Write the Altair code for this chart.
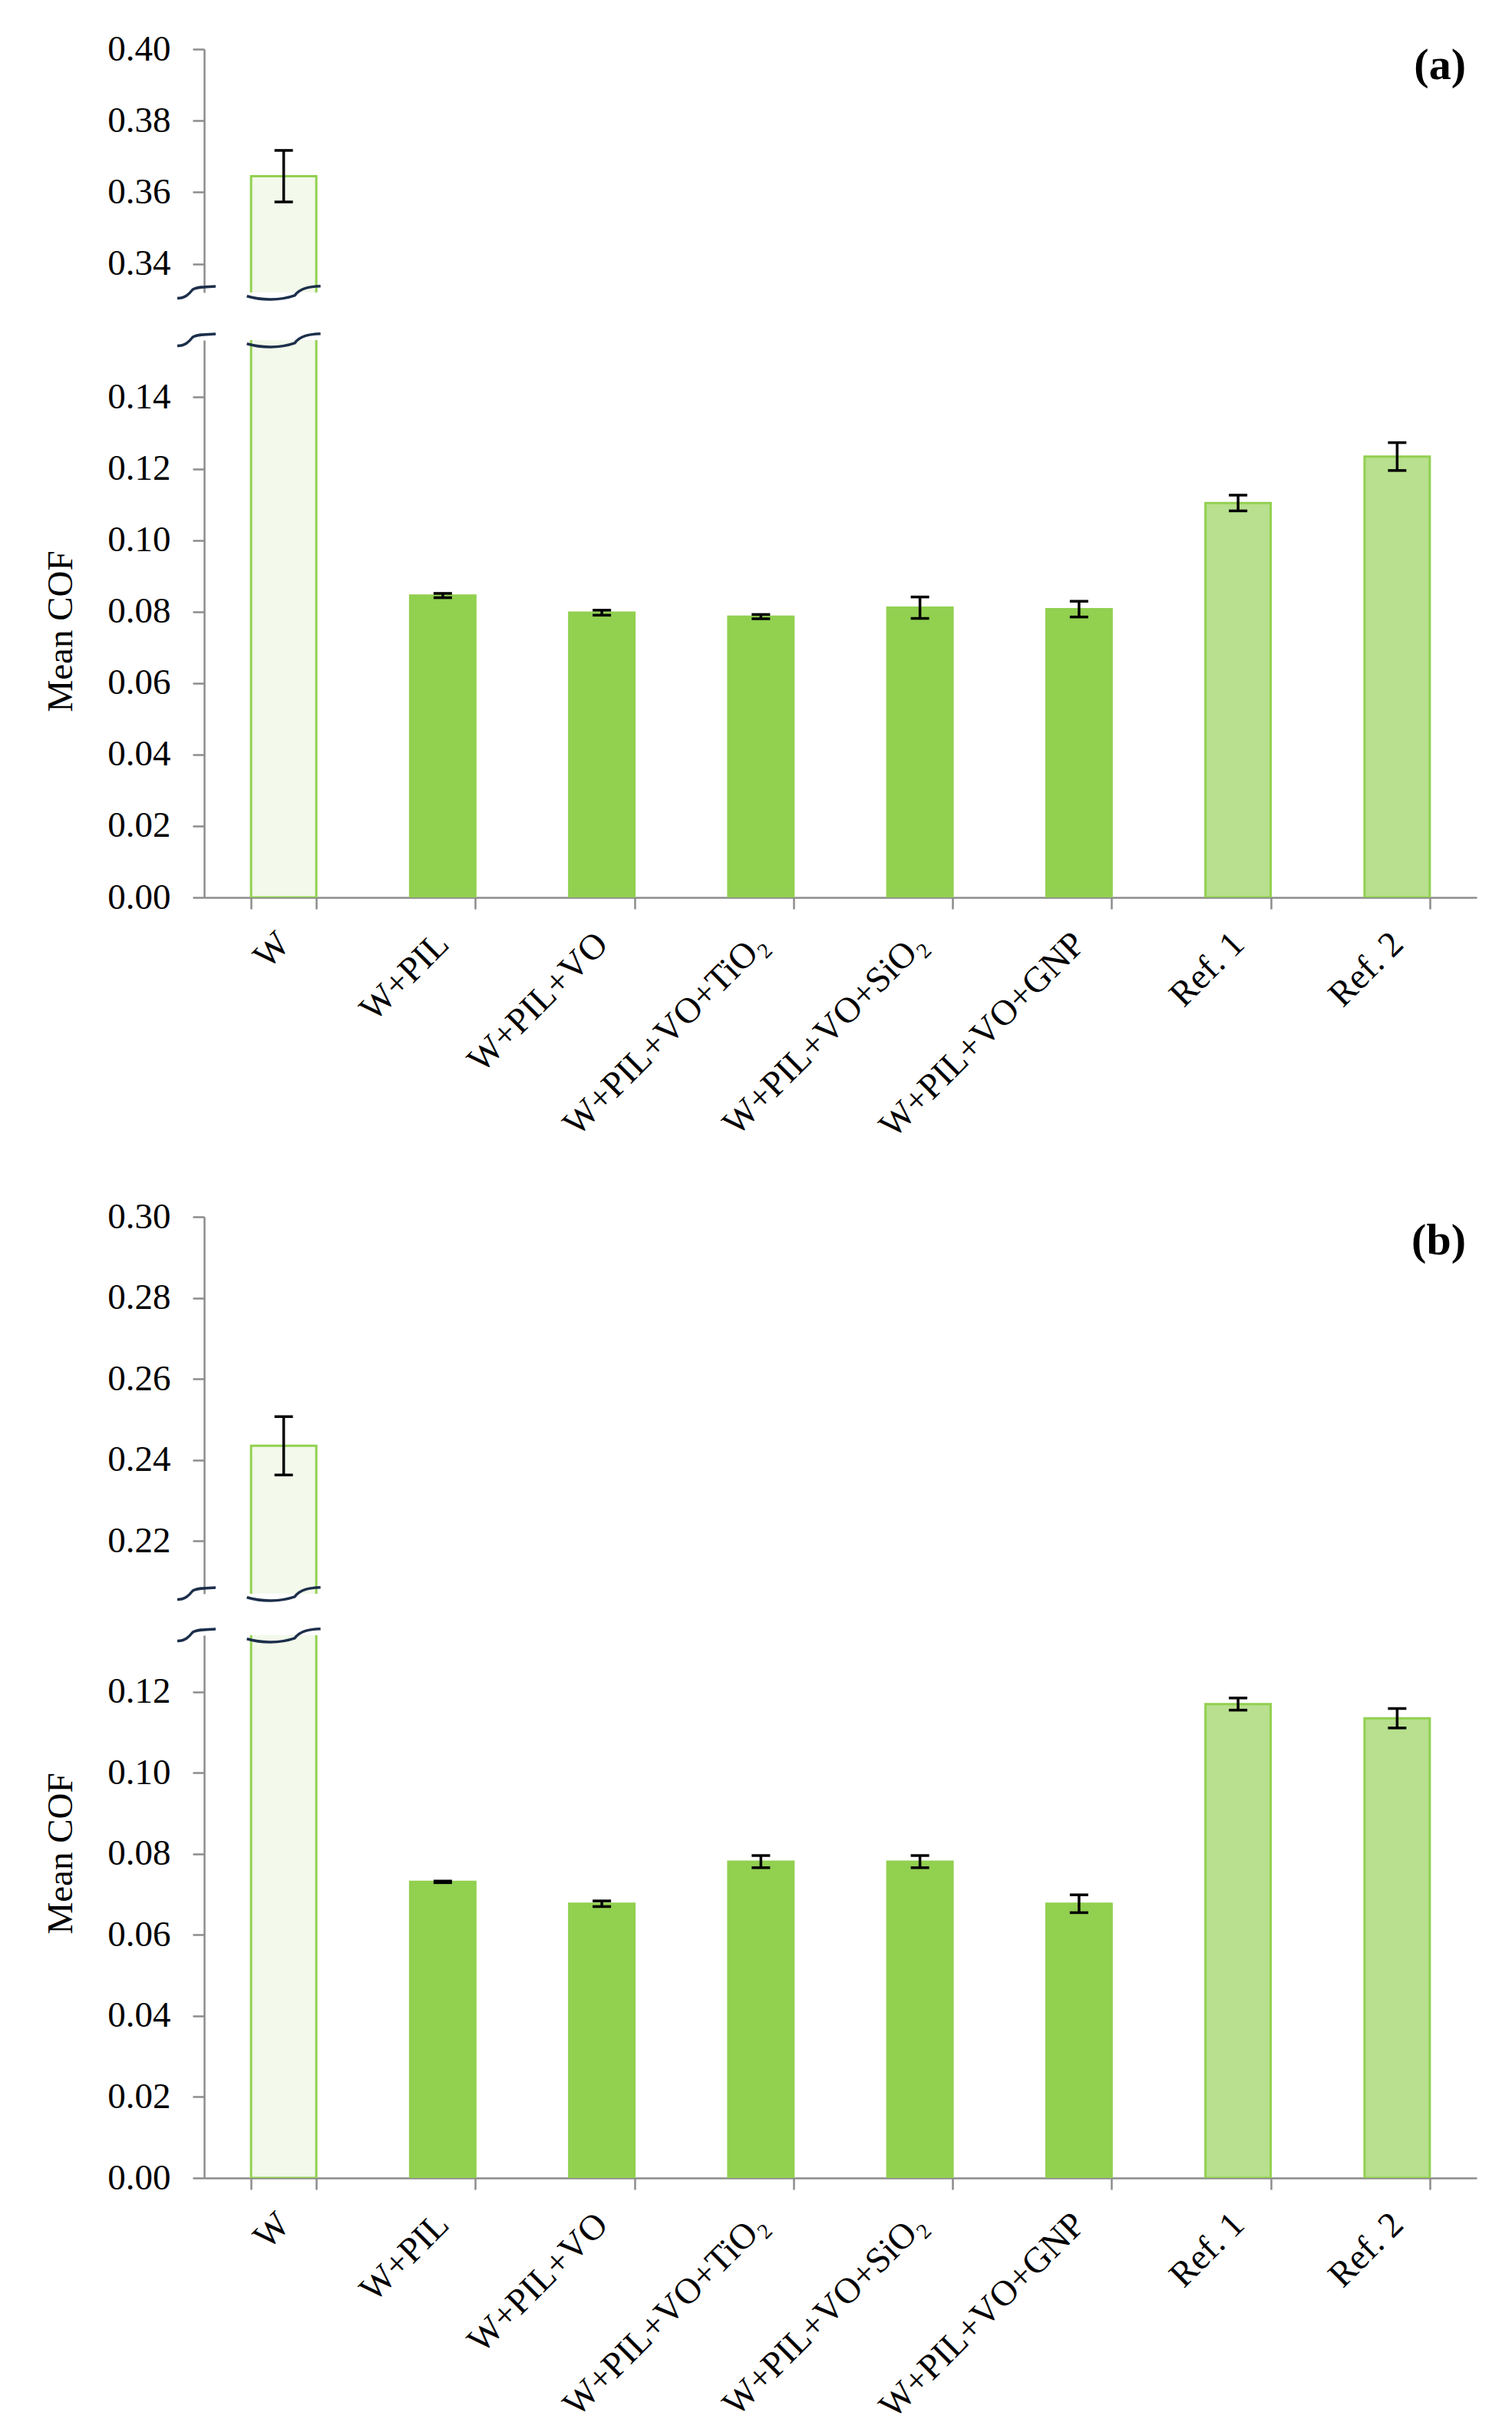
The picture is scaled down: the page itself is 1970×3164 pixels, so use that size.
import altair as alt
import pandas as pd

categories = ["W", "W+PIL", "W+PIL+VO", "W+PIL+VO+TiO₂", "W+PIL+VO+SiO₂",
              "W+PIL+VO+GNP", "Ref. 1", "Ref. 2"]
bar_style = ["dotted", "solid", "solid", "solid", "solid", "solid", "hatched", "hatched"]

# panel (a)
cof_a = [0.3645, 0.0845, 0.0797, 0.0786, 0.0811, 0.0807, 0.1104, 0.1234]
err_a = [0.0072, 0.0006, 0.0007, 0.0006, 0.0030, 0.0022, 0.0022, 0.0039]
# panel (b)
cof_b = [0.2435, 0.0731, 0.0677, 0.0781, 0.0781, 0.0677, 0.1170, 0.1135]
err_b = [0.0072, 0.0002, 0.0007, 0.0015, 0.0015, 0.0022, 0.0015, 0.0024]

ticks_a_top = [0.34, 0.36, 0.38, 0.40]
ticks_a_low = [0.00, 0.02, 0.04, 0.06, 0.08, 0.10, 0.12, 0.14]
ticks_b_top = [0.22, 0.24, 0.26, 0.28, 0.30]
ticks_b_low = [0.00, 0.02, 0.04, 0.06, 0.08, 0.10, 0.12]

FONT = "Liberation Serif"
GREEN = "#92d050"
GREY = "#8c8c8c"
NAVY = "#1c2f4b"
W = 1658

# break marks (custom symbol paths in the -1..1 box)
BAR_WAVE = "M-1,0.1 C-0.6,0.22 -0.1,0.22 0.3,0.08 C0.45,-0.12 0.7,-0.16 1,-0.17"
AXIS_WAVE = "M-1,0.3 C-0.6,0.3 -0.4,0.1 -0.2,-0.15 C0,-0.3 0.5,-0.3 1,-0.32"

one_row = pd.DataFrame({"k": [0]})


def make_df(cof, err):
    df = pd.DataFrame({"category": categories, "cof": cof, "err": err, "style": bar_style})
    df["lo"] = df["cof"] - df["err"]
    df["hi"] = df["cof"] + df["err"]
    return df


def segment(df, lo, hi, ticks, height, bottom, tag=None, tag_y=0, title_y=None):
    xscale = alt.Scale(domain=categories, paddingInner=0.59, paddingOuter=0.295)
    yscale = alt.Scale(domain=[lo, hi], nice=False, zero=False)

    if bottom:
        x_axis = alt.Axis(title=None, labelAngle=-45, labelAlign="right", labelBaseline="middle",
                          labelFont=FONT, labelFontSize=47, labelColor="black", labelLimit=800,
                          labelPadding=38, domainColor=GREY, domainWidth=2.5, tickColor=GREY,
                          tickWidth=2.5, tickSize=15, tickBand="extent")
    else:
        x_axis = None

    ykw = dict(values=ticks, format=".2f", labelFont=FONT, labelFontSize=47, labelColor="black",
               labelPadding=29, tickSize=15, tickColor=GREY, tickWidth=2.5, domainColor=GREY,
               domainWidth=2.5, grid=False)
    if title_y is not None:
        ykw.update(title="Mean COF", titleY=title_y, titleFont=FONT, titleFontSize=47,
                   titleFontWeight="normal", titleColor="black", titlePadding=36)
    else:
        ykw.update(title=None)
    y_axis = alt.Axis(**ykw)

    def xe():
        return alt.X("category:N", scale=xscale, axis=x_axis)

    def ye(field):
        return alt.Y(field, scale=yscale, axis=y_axis)

    base = alt.Chart(df)
    bars = base.mark_bar(clip=True, strokeWidth=3).encode(
        x=xe(),
        y=ye("cof:Q"),
        y2=alt.datum(0),
        fill=alt.Fill("style:N", legend=None,
                      scale=alt.Scale(domain=["dotted", "solid", "hatched"],
                                      range=["#f3f9eb", GREEN, "#b8e08e"])),
        stroke=alt.Stroke("style:N", legend=None,
                          scale=alt.Scale(domain=["dotted", "solid", "hatched"],
                                          range=[GREEN, GREEN, GREEN])),
    )
    rule = base.mark_rule(clip=True, color="black", strokeWidth=3.5).encode(
        x=xe(), y=ye("lo:Q"), y2="hi:Q")
    cap_lo = base.mark_tick(clip=True, color="black", thickness=3.5, size=24, opacity=1).encode(
        x=xe(), y=ye("lo:Q"))
    cap_hi = base.mark_tick(clip=True, color="black", thickness=3.5, size=24, opacity=1).encode(
        x=xe(), y=ye("hi:Q"))

    edge = hi if bottom else lo
    bar_wave = alt.Chart(one_row).mark_point(
        shape=BAR_WAVE, size=96 ** 2, filled=False, stroke=NAVY, strokeWidth=3.5, opacity=1
    ).encode(x=alt.X(datum="W", scale=xscale, axis=x_axis),
             y=alt.Y(datum=edge, scale=yscale, axis=y_axis))
    axis_wave = alt.Chart(one_row).mark_point(
        shape=AXIS_WAVE, size=50 ** 2, filled=False, stroke=NAVY, strokeWidth=3.5, opacity=1
    ).encode(x=alt.value(-10), y=alt.Y(datum=edge, scale=yscale, axis=y_axis))

    layers = [bars, rule, cap_lo, cap_hi, bar_wave, axis_wave]
    if tag:
        layers.append(alt.Chart(one_row).mark_text(
            text=tag, font=FONT, fontSize=58, fontWeight="bold", align="right",
            baseline="middle", color="black").encode(x=alt.value(W - 14), y=alt.value(tag_y)))
    return alt.layer(*layers).properties(width=W, height=height)


df_a = make_df(cof_a, err_a)
df_b = make_df(cof_b, err_b)

upper_a = segment(df_a, 0.332, 0.40, ticks_a_top, 317, False, tag="(a)", tag_y=22)
lower_a = segment(df_a, 0.0, 0.156, ticks_a_low, 726, True, title_y=379)
upper_b = segment(df_b, 0.207, 0.30, ticks_b_top, 491, False, tag="(b)", tag_y=32)
lower_b = segment(df_b, 0.0, 0.134, ticks_b_low, 707, True, title_y=284)

# the break marks' symbol bounds add some space to each gap
panel_a = alt.vconcat(upper_a, lower_a, spacing=29)
panel_b = alt.vconcat(upper_b, lower_b, spacing=21)

chart = alt.vconcat(panel_a, panel_b, spacing=70).properties(
    padding={"left": 47, "top": 32, "right": 20, "bottom": 20},
    background="white",
).configure_view(
    stroke=None
)

chart.save("out.html", embed_options={"renderer": "svg", "actions": False})
